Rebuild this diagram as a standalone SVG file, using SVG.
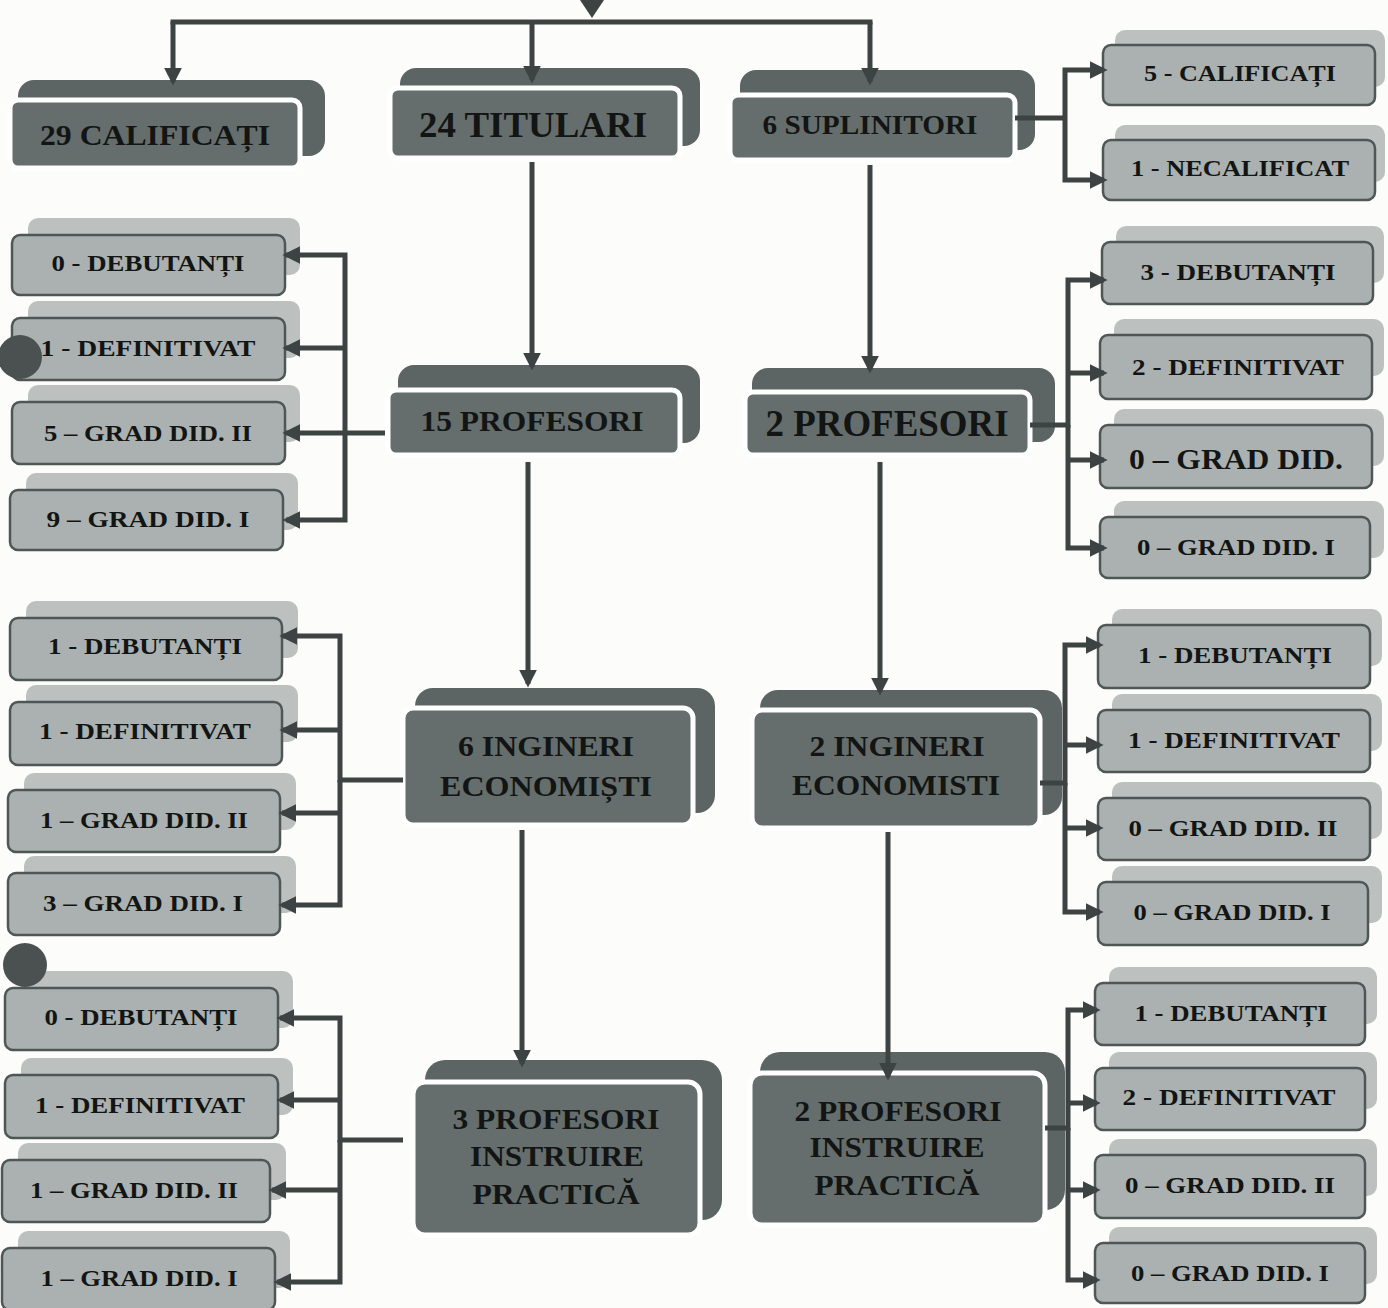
<svg xmlns="http://www.w3.org/2000/svg" width="1388" height="1308" viewBox="0 0 1388 1308">
<defs>
<marker id="ah" viewBox="0 0 10 10" refX="8" refY="5" markerWidth="18" markerHeight="18" markerUnits="userSpaceOnUse" orient="auto"><path d="M0,0 L10,5 L0,10 z" fill="#3c4342"/></marker>
<style>
.dback{fill:#5c6563}
.dfront{fill:#656e6c;stroke:#fff;stroke-width:5}
.lback{fill:#bcc1c0}
.lfront{fill:#aab1b0;stroke:#4f5756;stroke-width:2.5}
.t{font-family:"Liberation Serif","Times New Roman",serif;font-weight:bold;fill:#121514;text-anchor:middle}
.s{font-size:24px}
.conn{stroke:#3c4342;stroke-width:5;fill:none}
.arr{marker-end:url(#ah)}
</style>
</defs>
<rect width="1388" height="1308" fill="#fcfcfb"/>

<g id="n29"><rect class="dback" x="18" y="80" width="307" height="76" rx="16"/><rect class="dfront" x="10" y="100" width="290" height="68" rx="8"/><text class="t" x="155" y="145" font-size="30" textLength="230" lengthAdjust="spacingAndGlyphs">29 CALIFICAȚI</text></g>
<g id="n24"><rect class="dback" x="400" y="68" width="300" height="78" rx="16"/><rect class="dfront" x="390" y="88" width="290" height="70" rx="8"/><text class="t" x="533" y="137" font-size="36" textLength="228" lengthAdjust="spacingAndGlyphs">24 TITULARI</text></g>
<g id="n6s"><rect class="dback" x="740" y="70" width="295" height="80" rx="16"/><rect class="dfront" x="730" y="95" width="285" height="65" rx="8"/><text class="t" x="870" y="134" font-size="28" textLength="215" lengthAdjust="spacingAndGlyphs">6 SUPLINITORI</text></g>
<g id="n15"><rect class="dback" x="398" y="365" width="302" height="78" rx="16"/><rect class="dfront" x="388" y="390" width="292" height="65" rx="8"/><text class="t" x="532" y="431" font-size="30" textLength="223" lengthAdjust="spacingAndGlyphs">15 PROFESORI</text></g>
<g id="n2p"><rect class="dback" x="752" y="368" width="303" height="74" rx="16"/><rect class="dfront" x="745" y="392" width="285" height="63" rx="8"/><text class="t" x="887" y="436" font-size="38" textLength="243" lengthAdjust="spacingAndGlyphs">2 PROFESORI</text></g>
<g id="n6i"><rect class="dback" x="415" y="688" width="300" height="125" rx="18"/><rect class="dfront" x="403" y="708" width="290" height="117" rx="10"/><text class="t" x="546" y="756" font-size="30" textLength="176" lengthAdjust="spacingAndGlyphs">6 INGINERI</text><text class="t" x="546" y="796" font-size="30" textLength="212" lengthAdjust="spacingAndGlyphs">ECONOMIȘTI</text></g>
<g id="n2i"><rect class="dback" x="760" y="690" width="302" height="125" rx="18"/><rect class="dfront" x="752" y="710" width="288" height="118" rx="10"/><text class="t" x="897" y="756" font-size="30" textLength="175" lengthAdjust="spacingAndGlyphs">2 INGINERI</text><text class="t" x="896" y="795" font-size="30" textLength="208" lengthAdjust="spacingAndGlyphs">ECONOMISTI</text></g>
<g id="n3p"><rect class="dback" x="425" y="1060" width="297" height="160" rx="20"/><rect class="dfront" x="413" y="1082" width="287" height="153" rx="12"/><text class="t" x="556" y="1129" font-size="30" textLength="207" lengthAdjust="spacingAndGlyphs">3 PROFESORI</text><text class="t" x="557" y="1166" font-size="30" textLength="174" lengthAdjust="spacingAndGlyphs">INSTRUIRE</text><text class="t" x="556" y="1204" font-size="30" textLength="167" lengthAdjust="spacingAndGlyphs">PRACTICĂ</text></g>
<g id="n2pi"><rect class="dback" x="760" y="1052" width="305" height="158" rx="20"/><rect class="dfront" x="750" y="1073" width="295" height="152" rx="12"/><text class="t" x="898" y="1121" font-size="30" textLength="207" lengthAdjust="spacingAndGlyphs">2 PROFESORI</text><text class="t" x="897" y="1157" font-size="30" textLength="175" lengthAdjust="spacingAndGlyphs">INSTRUIRE</text><text class="t" x="897" y="1195" font-size="30" textLength="165" lengthAdjust="spacingAndGlyphs">PRACTICĂ</text></g>

<g id="r0a"><rect class="lback" x="1115" y="30" width="270" height="57" rx="10"/><rect class="lfront" x="1103" y="45" width="272" height="60" rx="8"/><text class="t s" x="1240" y="81" textLength="192" lengthAdjust="spacingAndGlyphs">5 - CALIFICAȚI</text></g>
<g id="r0b"><rect class="lback" x="1115" y="125" width="270" height="57" rx="10"/><rect class="lfront" x="1103" y="140" width="272" height="60" rx="8"/><text class="t s" x="1240" y="176" textLength="218" lengthAdjust="spacingAndGlyphs">1 - NECALIFICAT</text></g>

<g id="l1a"><rect class="lback" x="28" y="218" width="272" height="57" rx="10"/><rect class="lfront" x="12" y="235" width="273" height="60" rx="8"/><text class="t s" x="148" y="271" textLength="193" lengthAdjust="spacingAndGlyphs">0 - DEBUTANȚI</text></g>
<g id="l1b"><rect class="lback" x="28" y="301" width="272" height="57" rx="10"/><rect class="lfront" x="12" y="318" width="273" height="62" rx="8"/><text class="t s" x="148" y="356" textLength="215" lengthAdjust="spacingAndGlyphs">1 - DEFINITIVAT</text></g>
<g id="l1c"><rect class="lback" x="28" y="385" width="272" height="57" rx="10"/><rect class="lfront" x="12" y="402" width="273" height="62" rx="8"/><text class="t s" x="148" y="441" textLength="208" lengthAdjust="spacingAndGlyphs">5 – GRAD DID. II</text></g>
<g id="l1d"><rect class="lback" x="26" y="473" width="272" height="57" rx="10"/><rect class="lfront" x="10" y="490" width="273" height="60" rx="8"/><text class="t s" x="148" y="527" textLength="203" lengthAdjust="spacingAndGlyphs">9 – GRAD  DID. I</text></g>

<g id="r1a"><rect class="lback" x="1116" y="226" width="268" height="57" rx="10"/><rect class="lfront" x="1102" y="242" width="271" height="62" rx="8"/><text class="t s" x="1238" y="280" textLength="195" lengthAdjust="spacingAndGlyphs">3 - DEBUTANȚI</text></g>
<g id="r1b"><rect class="lback" x="1114" y="319" width="270" height="57" rx="10"/><rect class="lfront" x="1100" y="335" width="272" height="64" rx="8"/><text class="t s" x="1238" y="375" textLength="212" lengthAdjust="spacingAndGlyphs">2 - DEFINITIVAT</text></g>
<g id="r1c"><rect class="lback" x="1114" y="409" width="270" height="57" rx="10"/><rect class="lfront" x="1100" y="425" width="272" height="63" rx="8"/><text class="t" x="1236" y="469" font-size="29" textLength="214" lengthAdjust="spacingAndGlyphs">0 – GRAD DID.</text></g>
<g id="r1d"><rect class="lback" x="1114" y="501" width="270" height="57" rx="10"/><rect class="lfront" x="1100" y="517" width="270" height="61" rx="8"/><text class="t s" x="1236" y="555" textLength="198" lengthAdjust="spacingAndGlyphs">0 – GRAD DID. I</text></g>

<g id="l2a"><rect class="lback" x="26" y="601" width="272" height="57" rx="10"/><rect class="lfront" x="10" y="618" width="272" height="62" rx="8"/><text class="t s" x="145" y="654" textLength="194" lengthAdjust="spacingAndGlyphs">1 - DEBUTANȚI</text></g>
<g id="l2b"><rect class="lback" x="26" y="685" width="272" height="57" rx="10"/><rect class="lfront" x="10" y="702" width="272" height="63" rx="8"/><text class="t s" x="145" y="739" textLength="212" lengthAdjust="spacingAndGlyphs">1 - DEFINITIVAT</text></g>
<g id="l2c"><rect class="lback" x="24" y="773" width="272" height="57" rx="10"/><rect class="lfront" x="8" y="790" width="272" height="62" rx="8"/><text class="t s" x="144" y="828" textLength="208" lengthAdjust="spacingAndGlyphs">1 – GRAD DID. II</text></g>
<g id="l2d"><rect class="lback" x="24" y="856" width="272" height="57" rx="10"/><rect class="lfront" x="8" y="873" width="272" height="62" rx="8"/><text class="t s" x="143" y="911" textLength="200" lengthAdjust="spacingAndGlyphs">3 – GRAD DID. I</text></g>

<g id="r2a"><rect class="lback" x="1112" y="609" width="270" height="57" rx="10"/><rect class="lfront" x="1098" y="625" width="272" height="63" rx="8"/><text class="t s" x="1235" y="663" textLength="194" lengthAdjust="spacingAndGlyphs">1 - DEBUTANȚI</text></g>
<g id="r2b"><rect class="lback" x="1112" y="694" width="270" height="57" rx="10"/><rect class="lfront" x="1098" y="710" width="272" height="62" rx="8"/><text class="t s" x="1234" y="748" textLength="212" lengthAdjust="spacingAndGlyphs">1 - DEFINITIVAT</text></g>
<g id="r2c"><rect class="lback" x="1112" y="782" width="270" height="57" rx="10"/><rect class="lfront" x="1098" y="798" width="272" height="62" rx="8"/><text class="t s" x="1233" y="836" textLength="209" lengthAdjust="spacingAndGlyphs">0 – GRAD DID. II</text></g>
<g id="r2d"><rect class="lback" x="1112" y="866" width="270" height="57" rx="10"/><rect class="lfront" x="1098" y="882" width="270" height="63" rx="8"/><text class="t s" x="1232" y="920" textLength="197" lengthAdjust="spacingAndGlyphs">0 – GRAD DID. I</text></g>

<g id="l3a"><rect class="lback" x="21" y="971" width="272" height="57" rx="10"/><rect class="lfront" x="5" y="988" width="273" height="62" rx="8"/><text class="t s" x="141" y="1025" textLength="193" lengthAdjust="spacingAndGlyphs">0 - DEBUTANȚI</text></g>
<g id="l3b"><rect class="lback" x="21" y="1058" width="272" height="57" rx="10"/><rect class="lfront" x="5" y="1075" width="273" height="63" rx="8"/><text class="t s" x="140" y="1113" textLength="210" lengthAdjust="spacingAndGlyphs">1 - DEFINITIVAT</text></g>
<g id="l3c"><rect class="lback" x="18" y="1143" width="268" height="57" rx="10"/><rect class="lfront" x="2" y="1160" width="268" height="62" rx="8"/><text class="t s" x="134" y="1198" textLength="208" lengthAdjust="spacingAndGlyphs">1 – GRAD DID. II</text></g>
<g id="l3d"><rect class="lback" x="18" y="1231" width="272" height="57" rx="10"/><rect class="lfront" x="2" y="1248" width="273" height="62" rx="8"/><text class="t s" x="139" y="1286" textLength="197" lengthAdjust="spacingAndGlyphs">1 – GRAD DID. I</text></g>

<g id="r3a"><rect class="lback" x="1109" y="967" width="268" height="57" rx="10"/><rect class="lfront" x="1095" y="983" width="270" height="62" rx="8"/><text class="t s" x="1231" y="1021" textLength="193" lengthAdjust="spacingAndGlyphs">1 - DEBUTANȚI</text></g>
<g id="r3b"><rect class="lback" x="1109" y="1052" width="268" height="57" rx="10"/><rect class="lfront" x="1095" y="1068" width="270" height="62" rx="8"/><text class="t s" x="1229" y="1105" textLength="213" lengthAdjust="spacingAndGlyphs">2 - DEFINITIVAT</text></g>
<g id="r3c"><rect class="lback" x="1109" y="1139" width="268" height="57" rx="10"/><rect class="lfront" x="1095" y="1155" width="270" height="63" rx="8"/><text class="t s" x="1230" y="1193" textLength="210" lengthAdjust="spacingAndGlyphs">0 – GRAD DID. II</text></g>
<g id="r3d"><rect class="lback" x="1109" y="1227" width="268" height="57" rx="10"/><rect class="lfront" x="1095" y="1243" width="270" height="60" rx="8"/><text class="t s" x="1230" y="1281" textLength="198" lengthAdjust="spacingAndGlyphs">0 – GRAD DID. I</text></g>

<g id="connectors">
<polygon points="580,0 604,0 592,18" fill="#3c4342"/>
<path class="conn" d="M170.5,22 H872.5"/>
<path class="conn arr" d="M173,22 V82"/>
<path class="conn arr" d="M532,22 V80"/>
<path class="conn arr" d="M870,22 V82"/>
<path class="conn" d="M1015,118 H1065"/>
<path class="conn arr" d="M1065,118 V70 H1104"/>
<path class="conn arr" d="M1065,118 V180 H1104"/>
<path class="conn arr" d="M532,162 V367"/>
<path class="conn arr" d="M870,165 V370"/>
<path class="conn arr" d="M528,462 V684"/>
<path class="conn arr" d="M880,462 V692"/>
<path class="conn arr" d="M522,830 V1064"/>
<path class="conn arr" d="M888,832 V1077"/>

<path class="conn arr" d="M385,433 H286"/>
<path class="conn arr" d="M345,433 V255 H286"/>
<path class="conn arr" d="M345,433 V520 H286"/>
<path class="conn arr" d="M345,348 H286"/>

<path class="conn arr" d="M1030,425 H1068 V280 H1104"/>
<path class="conn arr" d="M1068,425 V548 H1104"/>
<path class="conn arr" d="M1068,373 H1104"/>
<path class="conn arr" d="M1068,460 H1104"/>

<path class="conn arr" d="M403,780 H340 V636 H283"/>
<path class="conn arr" d="M340,780 V905 H282"/>
<path class="conn arr" d="M340,730 H283"/>
<path class="conn arr" d="M340,813 H282"/>

<path class="conn arr" d="M1040,783 H1065 V645 H1100"/>
<path class="conn arr" d="M1065,783 V912 H1100"/>
<path class="conn arr" d="M1065,745 H1100"/>
<path class="conn arr" d="M1065,828 H1100"/>

<path class="conn arr" d="M403,1140 H340 V1018 H280"/>
<path class="conn arr" d="M340,1140 V1282 H277"/>
<path class="conn arr" d="M340,1100 H280"/>
<path class="conn arr" d="M340,1190 H272"/>

<path class="conn arr" d="M1045,1128 H1068 V1010 H1097"/>
<path class="conn arr" d="M1068,1128 V1280 H1097"/>
<path class="conn arr" d="M1068,1103 H1097"/>
<path class="conn arr" d="M1068,1190 H1097"/>
</g>

<g id="dots"><circle cx="20" cy="357" r="22" fill="#4a5150"/><circle cx="25" cy="965" r="22" fill="#4a5150"/></g>
</svg>
